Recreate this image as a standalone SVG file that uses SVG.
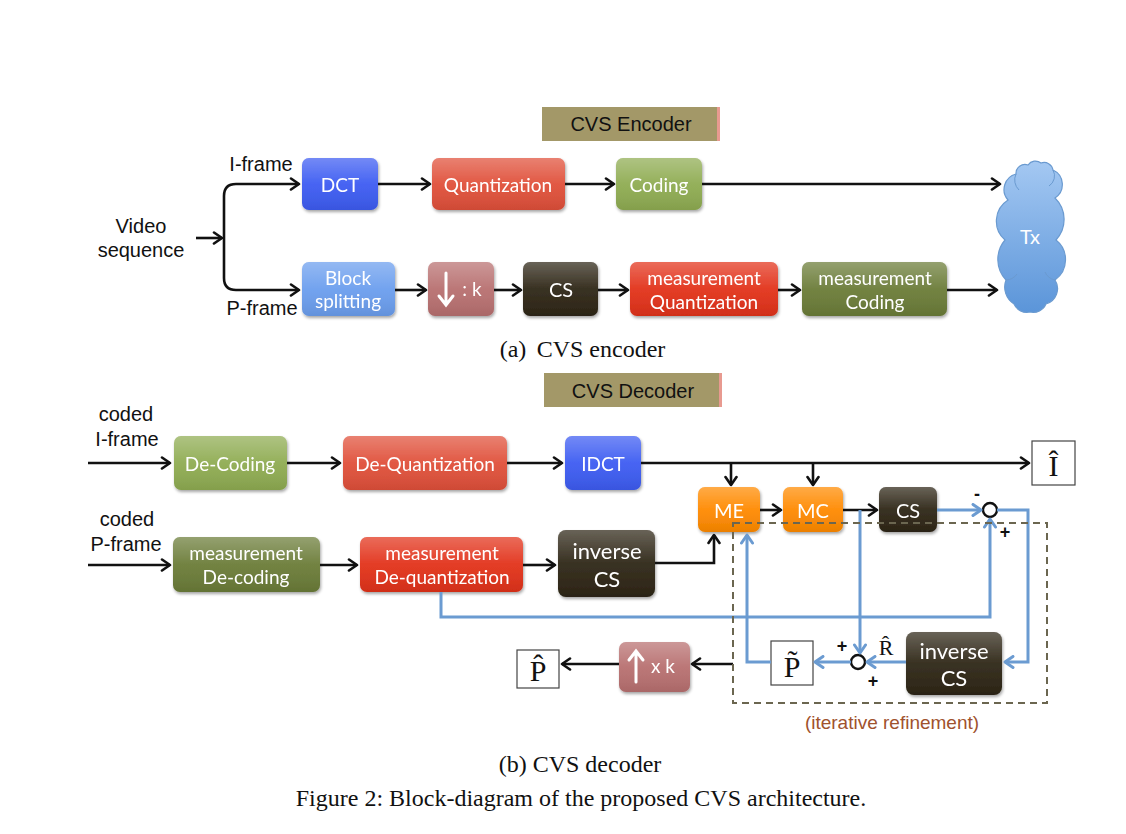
<svg xmlns="http://www.w3.org/2000/svg" width="1126" height="834" viewBox="0 0 1126 834">
<defs>
<style>
.lbl{font-family:"Liberation Sans",Arial,sans-serif;font-size:20px;fill:#111}
.bx{font-family:Lato,"Open Sans",sans-serif;font-size:19px;fill:#fff;text-anchor:middle}
.cap{font-family:"Liberation Serif","Times New Roman",serif;font-size:24px;fill:#111;text-anchor:middle}
.mth{font-family:"Liberation Serif","DejaVu Serif","Times New Roman",serif;font-size:30px;fill:#111;text-anchor:middle}
.sgn{font-family:"Liberation Sans",Arial,sans-serif;font-size:18px;fill:#111;text-anchor:middle;font-weight:bold}
.blk{fill:none;stroke:#111;stroke-width:2.6}
.blu{fill:none;stroke:#6b9bd1;stroke-width:3}
.sym{fill:#fff;stroke:#444;stroke-width:1.2}
.hdr{fill:#a39868}
</style>
<marker id="ak" markerUnits="userSpaceOnUse" markerWidth="14" markerHeight="14" refX="11" refY="7" orient="auto">
<path d="M3,1.5 L11,7 L3,12.5" fill="none" stroke="#111" stroke-width="2.6" stroke-linecap="round" stroke-linejoin="round"/>
</marker>
<marker id="ab" markerUnits="userSpaceOnUse" markerWidth="14" markerHeight="14" refX="11" refY="7" orient="auto">
<path d="M3,1.5 L11,7 L3,12.5" fill="none" stroke="#6b9bd1" stroke-width="3" stroke-linecap="round" stroke-linejoin="round"/>
</marker>
<linearGradient id="gloss" x1="0" y1="0" x2="0" y2="1">
<stop offset="0" stop-color="#fff" stop-opacity="0.28"/>
<stop offset="0.5" stop-color="#fff" stop-opacity="0.05"/>
<stop offset="1" stop-color="#000" stop-opacity="0.08"/>
</linearGradient>
<linearGradient id="cloudg" x1="0" y1="0" x2="0" y2="1">
<stop offset="0" stop-color="#a4c8f2"/>
<stop offset="1" stop-color="#5b95d9"/>
</linearGradient>
<filter id="sh" x="-10%" y="-10%" width="125%" height="135%">
<feDropShadow dx="1" dy="2" stdDeviation="1.5" flood-color="#000" flood-opacity="0.35"/>
</filter>
</defs>
<rect width="1126" height="834" fill="#fff"/>

<!-- ===== Encoder ===== -->
<g id="enc-title">
<rect class="hdr" x="542" y="107" width="178" height="34"/>
<rect x="717" y="107" width="3" height="34" fill="#e89a90"/>
<text class="lbl" x="631" y="131" text-anchor="middle">CVS Encoder</text>
</g>
<g id="enc-labels">
<text class="lbl" x="141" y="233" text-anchor="middle">Video</text>
<text class="lbl" x="141" y="257" text-anchor="middle">sequence</text>
<text class="lbl" x="261" y="171" text-anchor="middle">I-frame</text>
<text class="lbl" x="262" y="315" text-anchor="middle">P-frame</text>
</g>
<g id="dct" filter="url(#sh)">
<rect x="302" y="158" width="76" height="52" rx="7" fill="#3d5cf2"/>
<rect x="302" y="158" width="76" height="52" rx="7" fill="url(#gloss)"/>
<text class="bx" x="340" y="192">DCT</text>
</g>
<g id="quant" filter="url(#sh)">
<rect x="432" y="158" width="133" height="52" rx="7" fill="#e0503a"/>
<rect x="432" y="158" width="133" height="52" rx="7" fill="url(#gloss)"/>
<text class="bx" x="498" y="192">Quantization</text>
</g>
<g id="coding" filter="url(#sh)">
<rect x="616" y="158" width="86" height="52" rx="7" fill="#8fac52"/>
<rect x="616" y="158" width="86" height="52" rx="7" fill="url(#gloss)"/>
<text class="bx" x="659" y="192">Coding</text>
</g>
<g id="block" filter="url(#sh)">
<rect x="302" y="262" width="93" height="54" rx="7" fill="#6b9eee"/>
<rect x="302" y="262" width="93" height="54" rx="7" fill="url(#gloss)"/>
<text class="bx" x="348" y="285">Block</text>
<text class="bx" x="348" y="308">splitting</text>
</g>
<g id="down" filter="url(#sh)">
<rect x="428" y="262" width="66" height="54" rx="7" fill="#b87070"/>
<rect x="428" y="262" width="66" height="54" rx="7" fill="url(#gloss)"/>
<path d="M446,273 L446,304 M439,296 L446,305 L453,296" fill="none" stroke="#fff" stroke-width="3" stroke-linecap="round"/>
<text class="bx" x="472" y="296">: k</text>
</g>
<g id="cs-enc" filter="url(#sh)">
<rect x="523" y="262" width="75" height="54" rx="7" fill="#2e2616"/>
<rect x="523" y="262" width="75" height="54" rx="7" fill="url(#gloss)"/>
<text class="bx" x="561" y="297" style="font-size:20px">CS</text>
</g>
<g id="mquant" filter="url(#sh)">
<rect x="630" y="262" width="148" height="54" rx="7" fill="#e2321a"/>
<rect x="630" y="262" width="148" height="54" rx="7" fill="url(#gloss)"/>
<text class="bx" x="704" y="285">measurement</text>
<text class="bx" x="704" y="309">Quantization</text>
</g>
<g id="mcoding" filter="url(#sh)">
<rect x="802" y="262" width="145" height="54" rx="7" fill="#6b7c38"/>
<rect x="802" y="262" width="145" height="54" rx="7" fill="url(#gloss)"/>
<text class="bx" x="875" y="285">measurement</text>
<text class="bx" x="875" y="309">Coding</text>
</g>
<g id="tx">
<path d="M1008,200 A16,16 0 0 1 1016,174 A9,9 0 0 1 1028,165 A9,9 0 0 1 1041,163 A9,9 0 0 1 1053,170 A16,16 0 0 1 1055,198 A30,30 0 0 1 1056,240 A25,25 0 0 1 1055,280 A16,16 0 0 1 1046,304 A14,14 0 0 1 1030,312 A14,14 0 0 1 1014,304 A20,20 0 0 1 1006,280 A30,30 0 0 1 1005,240 A25,25 0 0 1 1008,200 Z" fill="url(#cloudg)" stroke="#6a9ad0" stroke-width="1.2"/>
<path d="M1016,174 A14,14 0 0 0 1019,190 M1053,170 A12,12 0 0 1 1049,186 M1006,280 A14,14 0 0 0 1017,274 M1055,280 A14,14 0 0 1 1045,272" fill="none" stroke="#6a9ad0" stroke-width="1"/>
<text class="bx" x="1030" y="244" style="font-size:20px">Tx</text>
</g>
<g id="enc-connectors">
<path class="blk" d="M196,238 L222,238" marker-end="url(#ak)"/>
<path class="blk" d="M224,238 L224,196 Q224,184 236,184 L299,184" marker-end="url(#ak)"/>
<path class="blk" d="M224,238 L224,278 Q224,290 236,290 L299,290" marker-end="url(#ak)"/>
<path class="blk" d="M378,184 L430,184" marker-end="url(#ak)"/>
<path class="blk" d="M565,184 L614,184" marker-end="url(#ak)"/>
<path class="blk" d="M702,184 L1000,184" marker-end="url(#ak)"/>
<path class="blk" d="M395,290 L426,290" marker-end="url(#ak)"/>
<path class="blk" d="M494,290 L521,290" marker-end="url(#ak)"/>
<path class="blk" d="M598,290 L628,290" marker-end="url(#ak)"/>
<path class="blk" d="M778,290 L800,290" marker-end="url(#ak)"/>
<path class="blk" d="M947,290 L997,290" marker-end="url(#ak)"/>
</g>
<text class="cap" x="513" y="357">(a)</text>
<text class="cap" x="601" y="357">CVS encoder</text>

<!-- ===== Decoder ===== -->
<g id="dec-title">
<rect class="hdr" x="544" y="373" width="178" height="34"/>
<rect x="719" y="373" width="3" height="34" fill="#e89a90"/>
<text class="lbl" x="633" y="398" text-anchor="middle">CVS Decoder</text>
</g>
<g id="dec-labels">
<text class="lbl" x="126" y="421" text-anchor="middle">coded</text>
<text class="lbl" x="127" y="446" text-anchor="middle">I-frame</text>
<text class="lbl" x="127" y="526" text-anchor="middle">coded</text>
<text class="lbl" x="126" y="551" text-anchor="middle">P-frame</text>
</g>
<g id="decoding" filter="url(#sh)">
<rect x="174" y="436" width="113" height="54" rx="7" fill="#8fac52"/>
<rect x="174" y="436" width="113" height="54" rx="7" fill="url(#gloss)"/>
<text class="bx" x="230" y="471">De-Coding</text>
</g>
<g id="dequant" filter="url(#sh)">
<rect x="343" y="436" width="164" height="54" rx="7" fill="#e0503a"/>
<rect x="343" y="436" width="164" height="54" rx="7" fill="url(#gloss)"/>
<text class="bx" x="425" y="471">De-Quantization</text>
</g>
<g id="idct" filter="url(#sh)">
<rect x="565" y="436" width="76" height="54" rx="7" fill="#3d5cf2"/>
<rect x="565" y="436" width="76" height="54" rx="7" fill="url(#gloss)"/>
<text class="bx" x="603" y="471">IDCT</text>
</g>
<g id="mdecoding" filter="url(#sh)">
<rect x="173" y="537" width="147" height="55" rx="7" fill="#6b7c38"/>
<rect x="173" y="537" width="147" height="55" rx="7" fill="url(#gloss)"/>
<text class="bx" x="246" y="560">measurement</text>
<text class="bx" x="246" y="584">De-coding</text>
</g>
<g id="mdequant" filter="url(#sh)">
<rect x="360" y="537" width="163" height="55" rx="7" fill="#e2321a"/>
<rect x="360" y="537" width="163" height="55" rx="7" fill="url(#gloss)"/>
<text class="bx" x="442" y="560">measurement</text>
<text class="bx" x="442" y="584">De-quantization</text>
</g>
<g id="invcs1" filter="url(#sh)">
<rect x="558" y="530" width="97" height="67" rx="8" fill="#2e2616"/>
<rect x="558" y="530" width="97" height="67" rx="8" fill="url(#gloss)"/>
<text class="bx" x="607" y="559" style="font-size:22px">inverse</text>
<text class="bx" x="607" y="587" style="font-size:22px">CS</text>
</g>
<g id="me" filter="url(#sh)">
<rect x="698" y="487" width="62" height="45" rx="7" fill="#ff8a00"/>
<rect x="698" y="487" width="62" height="45" rx="7" fill="url(#gloss)"/>
<text class="bx" x="729" y="518" style="font-size:20px">ME</text>
</g>
<g id="mc" filter="url(#sh)">
<rect x="783" y="487" width="60" height="45" rx="7" fill="#ff8a00"/>
<rect x="783" y="487" width="60" height="45" rx="7" fill="url(#gloss)"/>
<text class="bx" x="813" y="518" style="font-size:20px">MC</text>
</g>
<g id="cs-dec" filter="url(#sh)">
<rect x="879" y="487" width="58" height="45" rx="7" fill="#2e2616"/>
<rect x="879" y="487" width="58" height="45" rx="7" fill="url(#gloss)"/>
<text class="bx" x="908" y="518" style="font-size:20px">CS</text>
</g>
<g id="invcs2" filter="url(#sh)">
<rect x="906" y="632" width="96" height="63" rx="8" fill="#2e2616"/>
<rect x="906" y="632" width="96" height="63" rx="8" fill="url(#gloss)"/>
<text class="bx" x="954" y="659" style="font-size:22px">inverse</text>
<text class="bx" x="954" y="686" style="font-size:22px">CS</text>
</g>
<g id="upk" filter="url(#sh)">
<rect x="619" y="642" width="71" height="50" rx="7" fill="#b87070"/>
<rect x="619" y="642" width="71" height="50" rx="7" fill="url(#gloss)"/>
<path d="M636,682 L636,652 M629,660 L636,651 L643,660" fill="none" stroke="#fff" stroke-width="3" stroke-linecap="round"/>
<text class="bx" x="663" y="673">x k</text>
</g>
<g id="ihat">
<rect class="sym" x="1032" y="441" width="43" height="44"/>
<text class="mth" x="1053.500" y="476">Î</text>
</g>
<g id="phat">
<rect class="sym" x="517" y="650" width="42" height="38"/>
<text class="mth" x="538" y="681">P&#x302;</text>
</g>
<g id="ptilde">
<rect class="sym" x="771" y="641" width="42" height="44"/>
<text class="mth" x="792" y="677">P&#x303;</text>
</g>
<g id="sum1">
<circle cx="990" cy="510" r="7" fill="#fff" stroke="#111" stroke-width="2.4"/>
<text class="sgn" x="977" y="500">-</text>
<text class="sgn" x="1005" y="538">+</text>
</g>
<g id="sum2">
<circle cx="858" cy="662" r="7" fill="#fff" stroke="#111" stroke-width="2.4"/>
<text class="sgn" x="842" y="652">+</text>
<text class="sgn" x="873" y="687">+</text>
<text class="mth" x="886" y="655" style="font-size:22px">R&#x302;</text>
</g>
<g id="dec-connectors">
<path class="blk" d="M88,463 L170,463" marker-end="url(#ak)"/>
<path class="blk" d="M287,463 L340,463" marker-end="url(#ak)"/>
<path class="blk" d="M507,463 L562,463" marker-end="url(#ak)"/>
<path class="blk" d="M641,463 L1029,463" marker-end="url(#ak)"/>
<path class="blk" d="M731,463 L731,485" marker-end="url(#ak)"/>
<path class="blk" d="M813,463 L813,485" marker-end="url(#ak)"/>
<path class="blk" d="M88,565 L170,565" marker-end="url(#ak)"/>
<path class="blk" d="M320,565 L357,565" marker-end="url(#ak)"/>
<path class="blk" d="M523,565 L555,565" marker-end="url(#ak)"/>
<path class="blk" d="M655,563 L714,563 L714,535" marker-end="url(#ak)"/>
<path class="blk" d="M760,510 L781,510" marker-end="url(#ak)"/>
<path class="blk" d="M843,510 L877,510" marker-end="url(#ak)"/>
<path class="blk" d="M733,664 L692,664" marker-end="url(#ak)"/>
<path class="blk" d="M619,664 L562,664" marker-end="url(#ak)"/>
<path class="blu" d="M937,510 L981,510" marker-end="url(#ab)"/>
<path class="blu" d="M997,510 L1028,510 L1028,662 L1005,662" marker-end="url(#ab)"/>
<path class="blu" d="M906,662 L867,662" marker-end="url(#ab)"/>
<path class="blu" d="M860,510 L860,653" marker-end="url(#ab)"/>
<path class="blu" d="M851,662 L815,662" marker-end="url(#ab)"/>
<path class="blu" d="M771,662 L747,662 L747,535" marker-end="url(#ab)"/>
<path class="blu" d="M441,592 L441,617 L990,617 L990,519" marker-end="url(#ab)"/>
</g>
<g id="refine">
<rect x="733" y="523" width="314" height="180" fill="none" stroke="#6b6650" stroke-width="2" stroke-dasharray="7,5"/>
<text x="892" y="729" text-anchor="middle" style="font-family:'Liberation Sans',Arial,sans-serif;font-size:19px;fill:#a0522d">(iterative refinement)</text>
</g>
<text class="cap" x="580" y="772">(b) CVS decoder</text>
<text class="cap" x="581" y="806">Figure 2: Block-diagram of the proposed CVS architecture.</text>
</svg>
